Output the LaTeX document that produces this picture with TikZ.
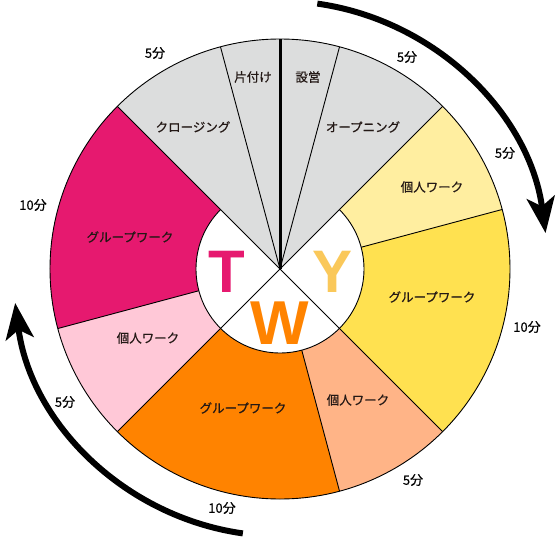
\documentclass[tikz,border=0pt]{standalone}
\usepackage{fontspec}
\newfontfamily\jpfont[FakeBold=0.6]{Noto Sans CJK JP}
\newfontfamily\letterfont{Liberation Sans}
\usetikzlibrary{arrows.meta}
\definecolor{cgray}{HTML}{DCDDDD}
\definecolor{cmagenta}{HTML}{E6196F}
\definecolor{cpink}{HTML}{FFC8D7}
\definecolor{corange}{HTML}{FF8300}
\definecolor{csalmon}{HTML}{FFB487}
\definecolor{cyellow}{HTML}{FFE150}
\definecolor{clightyellow}{HTML}{FFEEA0}
\definecolor{cyletter}{HTML}{FAC85A}
\definecolor{ctext}{HTML}{231815}
\newcommand\ringsec[3]{\fill[#1] (#2:84) -- (#2:230) arc[start angle=#2,end angle=#3,radius=230] -- (#3:84) arc[start angle=#3,end angle=#2,radius=84] -- cycle;}
\begin{document}
\begin{tikzpicture}[x=1pt,y=1pt,
  lbl/.style={font=\jpfont\fontsize{12.5}{14}\selectfont, text=ctext, inner sep=0pt},
  minlbl/.style={font=\jpfont\fontsize{13}{15}\selectfont, text=black, inner sep=0pt},
  bigletter/.style={font=\letterfont\bfseries\fontsize{60}{60}\selectfont, inner sep=0pt},
  divider/.style={draw=black, line width=0.9pt},
  flowarrow/.style={line width=6pt, -{Stealth[length=36pt,width=28pt,inset=9pt]}}]
\useasboundingbox (-280,-269) rectangle (279,269);
% sectors
\fill[cgray] (0,0) -- (135:230) arc[start angle=135,end angle=45,radius=230] -- cycle;
\ringsec{clightyellow}{45}{15}
\ringsec{cyellow}{15}{-45}
\ringsec{csalmon}{-45}{-75}
\ringsec{corange}{-75}{-135}
\ringsec{cpink}{-135}{-165}
\ringsec{cmagenta}{-165}{-225}
\fill[white] (0,0) -- (45:84) arc[start angle=45,end angle=-225,radius=84] -- cycle;
% dividers
\draw[divider] (0,0) -- (45:230);
\draw[divider] (0,0) -- (135:230);
\draw[divider] (0,0) -- (225:230);
\draw[divider] (0,0) -- (-45:230);
\draw[divider] (0,0) -- (75:230);
\draw[divider] (0,0) -- (105:230);
\draw[divider] (15:84) -- (15:230);
\draw[divider] (-75:84) -- (-75:230);
\draw[divider] (-165:84) -- (-165:230);
\draw[line width=3pt] (0,0) -- (90:230);
\draw[divider] (45:84) arc[start angle=45,end angle=-225,radius=84];
\draw[divider] (0,0) circle[radius=230];
% segment labels
\node[lbl] (katazuke) at (-27,192) {片付け};
\node[lbl] (setsuei) at (28,192) {設営};
\node[lbl] (closing) at (-87,142) {クロージング};
\node[lbl] (opening) at (83,142) {オープニング};
\node[lbl] (kojinY) at (152,82) {個人ワーク};
\node[lbl] (groupY) at (152,-28) {グループワーク};
\node[lbl] (kojinS) at (78,-131) {個人ワーク};
\node[lbl] (groupW) at (-37,-139) {グループワーク};
\node[lbl] (kojinP) at (-132,-69) {個人ワーク};
\node[lbl] (groupT) at (-150,32) {グループワーク};
% minute labels
\node[minlbl] (m1) at (-125,216) {5分};
\node[minlbl] (m2) at (127,212) {5分};
\node[minlbl] (m3) at (225,116) {5分};
\node[minlbl] (m4) at (247,-58) {10分};
\node[minlbl] (m5) at (133,-211) {5分};
\node[minlbl] (m6) at (-58,-239) {10分};
\node[minlbl] (m7) at (-215,-133) {5分};
\node[minlbl] (m8) at (-247,64) {10分};
% letters
\node[bigletter, text=cmagenta] (T) at (-53,-3) {T};
\node[bigletter, text=cyletter] (Y) at (53,-3) {Y};
\node[bigletter, text=corange, font=\letterfont\bfseries\fontsize{62}{62}\selectfont] (W) at (0,-54) {W};
% arrows
\coordinate (a1s) at (82:268);
\coordinate (a2s) at (262:267);
\draw[flowarrow] (a1s) arc[start angle=82,end angle=7.7,radius=268];
\draw[flowarrow] (a2s) arc[start angle=262,end angle=187.3,radius=267];
\end{tikzpicture}
\end{document}
